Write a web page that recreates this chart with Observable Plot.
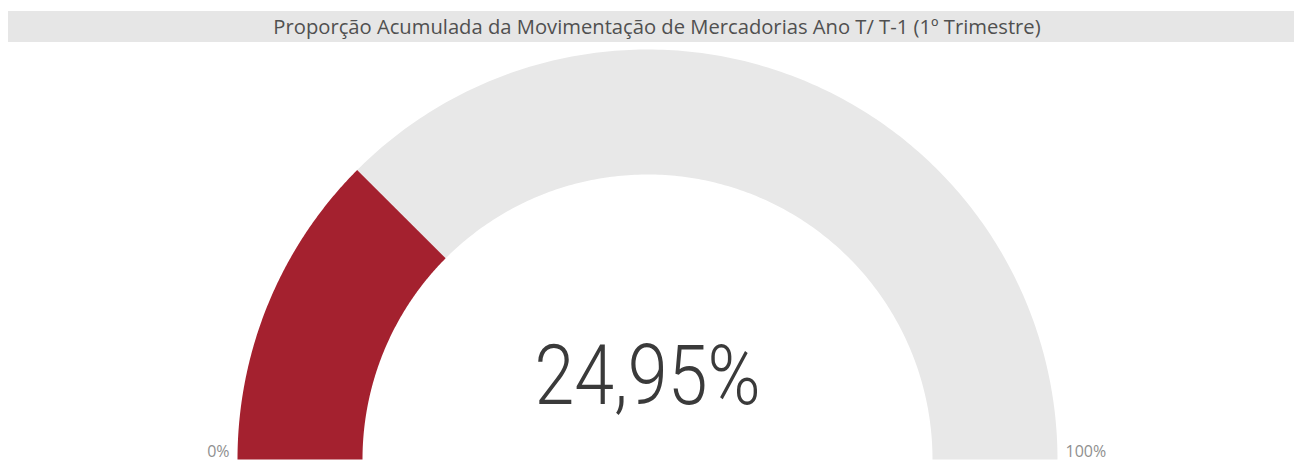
<!DOCTYPE html>
<html><head><meta charset="utf-8">
<script src="https://cdn.jsdelivr.net/npm/d3@7"></script>
<script src="https://cdn.jsdelivr.net/npm/@observablehq/plot@0.6"></script>
<style>
body{margin:0;background:#fff;font-family:"Open Sans",sans-serif;}
#title{margin:11px 0 0 8px;height:31px;line-height:31px;background:#e6e6e6;color:#505050;font-size:20.2px;text-align:center;padding-left:12px;box-sizing:border-box;white-space:nowrap;overflow:hidden;}
svg{display:block;}
</style></head><body>
<div id="title">Proporção Acumulada da Movimentação de Mercadorias Ano T/ T-1 (1º Trimestre)</div>
<div id="chart"></div>
<script>
const value = 0.2495;
const valueLabel = "24,95%";
const minLabel = "0%";
const maxLabel = "100%";
const innerRatio = 285 / 410;
const fillColor = "#a4212f";
const trackColor = "#e8e8e8";

function arcPoly(f0, f1, n = 200) {
  const pts = [];
  for (let i = 0; i <= n; i++) {
    const t = Math.PI * (1 - (f0 + (f1 - f0) * i / n));
    pts.push({x: Math.cos(t), y: Math.sin(t)});
  }
  for (let i = n; i >= 0; i--) {
    const t = Math.PI * (1 - (f0 + (f1 - f0) * i / n));
    pts.push({x: innerRatio * Math.cos(t), y: innerRatio * Math.sin(t)});
  }
  pts.push(pts[0]);
  return pts;
}
const track = arcPoly(value, 1);
const bar = arcPoly(0, value);

const chart = Plot.plot({
  width: 1294, height: 418,
  margin: 0,
  x: {domain: [-1, 1], range: [237, 1057], axis: null},
  y: {domain: [0, 1], range: [417, 7], axis: null},
  marks: [
    Plot.line(track, {x: "x", y: "y", fill: trackColor, stroke: "none", curve: "linear"}),
    Plot.line(bar, {x: "x", y: "y", fill: fillColor, stroke: "none", curve: "linear"}),
    Plot.text([valueLabel], {x: 0, y: 0, text: d => d, dy: -56, fontSize: 84, fontWeight: 300, fill: "#3a3a3a", fontFamily: "Roboto", textAnchor: "middle", lineAnchor: "bottom"}),
    Plot.text([minLabel], {x: -1, y: 0, text: d => d, dx: -8, dy: -3, fontSize: 16, fill: "#8f8f8f", fontFamily: "Open Sans", textAnchor: "end", lineAnchor: "bottom"}),
    Plot.text([maxLabel], {x: 1, y: 0, text: d => d, dx: 8, dy: -3, fontSize: 16, fill: "#8f8f8f", fontFamily: "Open Sans", textAnchor: "start", lineAnchor: "bottom"})
  ]
});
document.getElementById("chart").append(chart);
d3.select(chart).selectAll("text").filter(function(){return this.textContent === valueLabel;})
  .attr("textLength", 226).attr("lengthAdjust", "spacingAndGlyphs");
</script>
</body></html>
